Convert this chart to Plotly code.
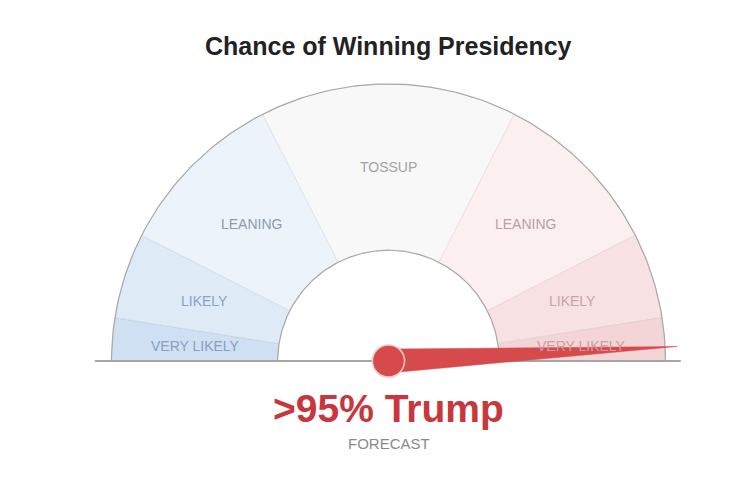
import numpy as np
import plotly.graph_objects as go

# gauge bands, in percent chance for Trump (0 = certain Clinton, 100 = certain Trump)
band_edges = [0, 5, 15, 35, 65, 85, 95, 100]
band_labels = ['VERY LIKELY', 'LIKELY', 'LEANING', 'TOSSUP', 'LEANING', 'LIKELY', 'VERY LIKELY']
band_colors = ['#cee0f1', '#deeaf6', '#edf3fb', '#f8f8f8', '#fcefef', '#f8e1e2', '#f3d5d8']
label_colors = ['#87a0c2', '#8aa2c2', '#8f9aaa', '#a3a3a3', '#b8a0a4', '#c7a3a9', '#c99ea6']
forecast_value = 98.4
headline = '>95% Trump'
subline = 'FORECAST'
title = 'Chance of Winning Presidency'

R_OUT, R_IN, R_LBL = 1.0, 0.4, 0.70
PX = 277.0  # pixels per unit radius
CX, CY = 380.5, 353.0  # gauge centre inside the plot div, pixels
FONT = 'Liberation Sans'


def ang(p):
    # percent -> radians, 0% on the left, 100% on the right
    return np.pi * (1 - p / 100.0)


fig = go.Figure()

# ---------- bands ----------
for lo, hi, col in zip(band_edges[:-1], band_edges[1:], band_colors):
    t = np.linspace(ang(lo), ang(hi), 60)
    xs = np.concatenate([R_OUT * np.cos(t), R_IN * np.cos(t[::-1])])
    ys = np.concatenate([R_OUT * np.sin(t), R_IN * np.sin(t[::-1])])
    fig.add_trace(go.Scatter(x=np.append(xs, xs[0]), y=np.append(ys, ys[0]), mode='lines',
                             fill='toself', fillcolor=col, line=dict(color='rgba(0,0,0,0.06)', width=1),
                             hoverinfo='skip', showlegend=False))

# outer / inner arcs
t = np.linspace(0, np.pi, 200)
for r in (R_OUT, R_IN):
    fig.add_trace(go.Scatter(x=r * np.cos(t), y=r * np.sin(t), mode='lines',
                             line=dict(color='#a8a8a8', width=1.2), hoverinfo='skip', showlegend=False))

# baseline
fig.add_trace(go.Scatter(x=[-1.06, 1.055], y=[0, 0], mode='lines',
                         line=dict(color='#a5a5a5', width=2), hoverinfo='skip', showlegend=False))

# band labels
for lo, hi, lab, col in zip(band_edges[:-1], band_edges[1:], band_labels, label_colors):
    a = ang((lo + hi) / 2)
    fig.add_annotation(x=R_LBL * np.cos(a), y=R_LBL * np.sin(a), text=lab, showarrow=False,
                       font=dict(family=FONT, size=14, color=col))

# ---------- needle ----------
a = ang(forecast_value)
tip = 1.043
half_w = 0.043
px, py = -np.sin(a), np.cos(a)
nx = [half_w * px, tip * np.cos(a), -half_w * px, half_w * px]
ny = [half_w * py, tip * np.sin(a), -half_w * py, half_w * py]
fig.add_trace(go.Scatter(x=nx, y=ny, mode='lines', fill='toself', fillcolor='#d64a4c',
                         line=dict(color='#d64a4c', width=0.5), hoverinfo='skip', showlegend=False))
hub = 0.058
fig.add_shape(type='circle', xref='x', yref='y', x0=-hub, y0=-hub, x1=hub, y1=hub,
              fillcolor='#d64a4c', line=dict(color='#f3c9c9', width=1.5))

# ---------- text ----------
fig.add_annotation(x=0, y=315 / PX, text='<b>' + title + '</b>', showarrow=False,
                   font=dict(family=FONT, size=25, color='#222222'))
fig.add_annotation(x=0, y=-47 / PX, text='<b>' + headline + '</b>', showarrow=False,
                   font=dict(family=FONT, size=39, color='#c7373d'))
fig.add_annotation(x=0, y=-82 / PX, text=subline, showarrow=False,
                   font=dict(family=FONT, size=15, color='#8a8a8a'))

fig.update_layout(
    width=730, height=500,
    margin=dict(l=0, r=0, t=0, b=0),
    paper_bgcolor='white', plot_bgcolor='white',
    xaxis=dict(range=[-CX / PX, (730 - CX) / PX], visible=False, fixedrange=True),
    yaxis=dict(range=[-(500 - CY) / PX, CY / PX], visible=False, fixedrange=True),
)

fig.write_html('out.html')
